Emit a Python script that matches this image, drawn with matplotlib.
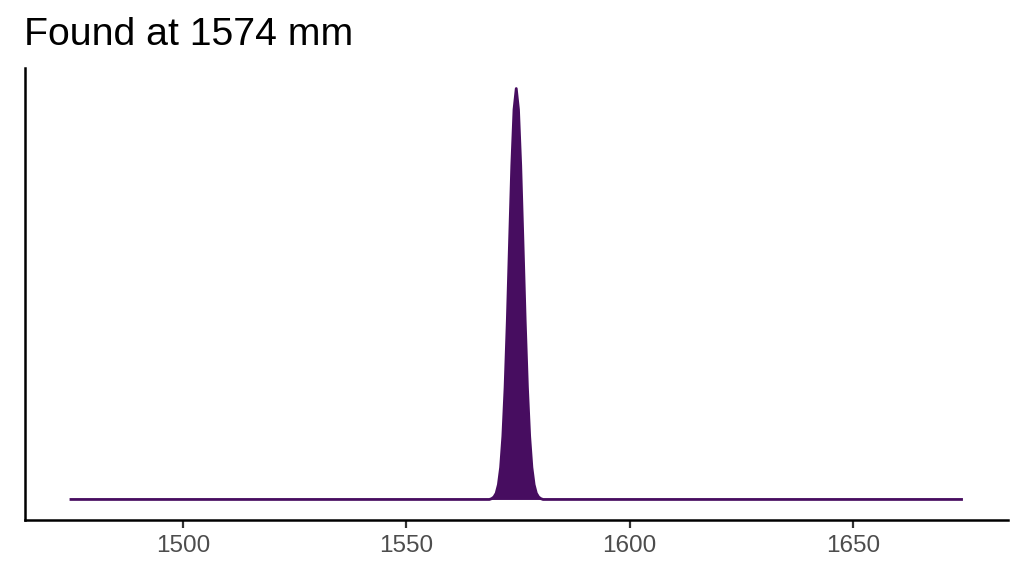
import matplotlib
matplotlib.use("Agg")
import matplotlib.pyplot as plt

# Data (relative density of the match position)
position_mm = [1474.6, 1568.6, 1569.1, 1569.6, 1570.1, 1570.6, 1571.1, 1571.6,
               1572.1, 1572.6, 1573.1, 1573.6, 1574.1, 1574.6, 1575.1, 1575.6,
               1576.1, 1576.6, 1577.1, 1577.6, 1578.1, 1578.6, 1579.1, 1579.6,
               1580.1, 1580.6, 1674.6]
density = [0.0, 0.0, 0.002, 0.006, 0.015, 0.036, 0.078, 0.154,
           0.273, 0.435, 0.626, 0.812, 0.949, 1.0, 0.949, 0.812,
           0.626, 0.435, 0.273, 0.154, 0.078, 0.036, 0.015, 0.006,
           0.002, 0.0, 0.0]
x_ticks = [1500, 1550, 1600, 1650]
title = "Found at 1574 mm"

purple = "#470D60"

plt.rcParams["font.family"] = ["Liberation Sans", "DejaVu Sans"]

fig = plt.figure(figsize=(10.24, 5.76), dpi=100)
ax = fig.add_axes([24.9 / 1024, 1 - 520 / 576, (1007.6 - 24.9) / 1024, (520 - 68) / 576])

ax.fill_between(position_mm, density, 0, color=purple, linewidth=0)
ax.plot(position_mm, density, color=purple, linewidth=2.0, solid_capstyle="butt",
        solid_joinstyle="round")

ax.set_xlim(1464.6, 1684.6)
ax.set_ylim(-0.05, 1.05)

ax.set_xticks(x_ticks)
ax.set_xticklabels([str(t) for t in x_ticks])
ax.set_yticks([])
ax.tick_params(axis="x", length=5.5, width=1.6, color="#333333",
               labelsize=17.5, labelcolor="#4D4D4D", pad=5)

for side in ["top", "right"]:
    ax.spines[side].set_visible(False)
for side in ["left", "bottom"]:
    ax.spines[side].set_linewidth(1.8)
    ax.spines[side].set_color("black")

fig.text(24.5 / 1024, 1 - 45 / 576, title, fontsize=28.3, color="black",
         ha="left", va="baseline")

fig.savefig("out.png", dpi=100)
